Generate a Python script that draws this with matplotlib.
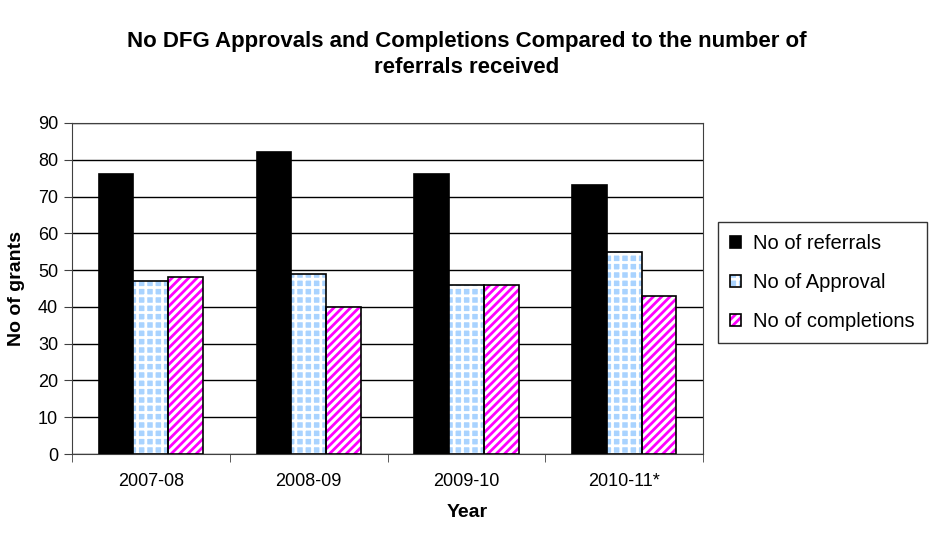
import matplotlib
matplotlib.use("Agg")
from matplotlib import pyplot as plt
import numpy as np

# data
years = ["2007-08", "2008-09", "2009-10", "2010-11*"]
referrals = [76, 82, 76, 73]
approvals = [47, 49, 46, 55]
completions = [48, 40, 46, 43]

plt.rcParams["font.family"] = ["Liberation Sans", "DejaVu Sans"]
plt.rcParams["hatch.linewidth"] = 2.0

fig = plt.figure(figsize=(9.34, 5.44), dpi=100)
ax = fig.add_axes([0.077, 0.1654, 0.676, 0.6086])

x = np.arange(len(years))
w = 0.22

# referrals: solid black
b1 = ax.bar(x - w, referrals, w, color="black", edgecolor="black", linewidth=1.2, zorder=3)

# approvals: light blue checker (hatch drawn in white over blue)
b2h = ax.bar(x, approvals, w, color="#a9d3ff", edgecolor="white", hatch="++", linewidth=0, zorder=3)
b2o = ax.bar(x, approvals, w, fill=False, edgecolor="black", linewidth=1.2, zorder=4)

# completions: magenta diagonal stripes on white
b3h = ax.bar(x + w, completions, w, color="white", edgecolor="#ff00ff", hatch="////", linewidth=0, zorder=3)
b3o = ax.bar(x + w, completions, w, fill=False, edgecolor="black", linewidth=1.2, zorder=4)

ax.set_xlim(-0.5, len(years) - 0.5)
ax.set_ylim(0, 90)
ax.set_yticks(np.arange(0, 91, 10))
ax.yaxis.grid(True, color="black", linewidth=1.0, zorder=0)
ax.set_axisbelow(True)

ax.set_xticks(x)
ax.set_xticklabels(years, fontsize=13)
ax.tick_params(axis="x", length=0, pad=14)
ax.set_xticks(np.arange(-0.5, len(years)), minor=True)
ax.tick_params(axis="x", which="minor", length=6, direction="out", color="#404040")
ax.tick_params(axis="y", labelsize=13, length=6, direction="out", color="#404040", pad=4)

for s in ["top", "right", "left", "bottom"]:
    ax.spines[s].set_color("#404040")

ax.set_ylabel("No of grants", fontsize=14, fontweight="bold")
ax.yaxis.set_label_coords(-0.074, 0.5)
fig.text(0.5, 0.057, "Year", ha="center", va="center", fontsize=14, fontweight="bold")

fig.text(0.5, 0.9, "No DFG Approvals and Completions Compared to the number of\nreferrals received",
         ha="center", va="center", fontsize=16, fontweight="bold", linespacing=1.32)

leg = fig.legend([b1, (b2h, b2o), (b3h, b3o)],
                 ["No of referrals", "No of Approval", "No of completions"],
                 loc="upper left", bbox_to_anchor=(0.7687, 0.592), fontsize=14.5,
                 frameon=True, fancybox=False, edgecolor="black",
                 handlelength=0.55, handleheight=0.55, handletextpad=0.6,
                 labelspacing=1.0, borderpad=0.6, borderaxespad=0)
leg.get_frame().set_linewidth(1.0)

fig.savefig("out.png", dpi=100)
